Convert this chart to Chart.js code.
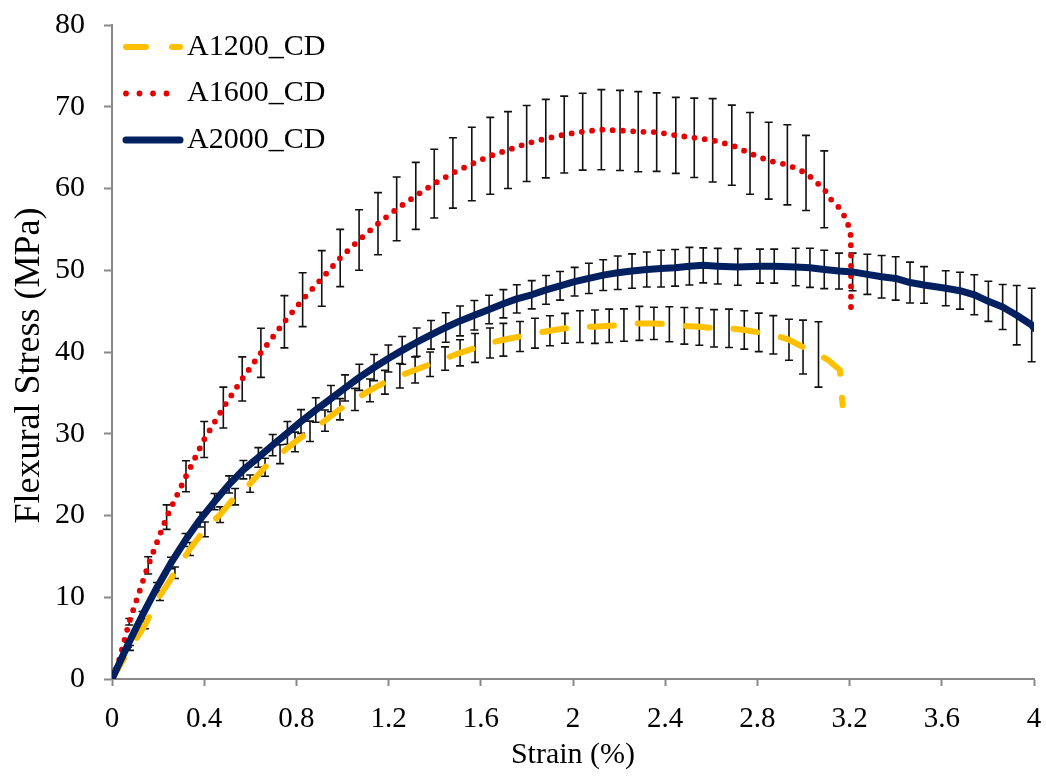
<!DOCTYPE html>
<html>
<head>
<meta charset="utf-8">
<title>Flexural stress vs strain</title>
<script src="https://cdn.jsdelivr.net/npm/chart.js@4.4.1/dist/chart.umd.min.js"></script>
<style>
  html, body { margin: 0; padding: 0; background: #fff; }
  #chart { display: block; }
</style>
</head>
<body>
<canvas id="chart" width="1046" height="776"></canvas>
<script>
// values: strain (%), mean stress (MPa), error half-width (MPa)
const a1200Strain = [0, 0.078, 0.143, 0.208, 0.273, 0.338, 0.403, 0.469, 0.534, 0.599, 0.664, 0.729, 0.794, 0.859, 0.924, 0.989, 1.054, 1.119, 1.184, 1.249, 1.315, 1.380, 1.445, 1.510, 1.575, 1.640, 1.698, 1.770, 1.835, 1.900, 1.965, 2.030, 2.095, 2.157, 2.221, 2.288, 2.351, 2.418, 2.483, 2.548, 2.612, 2.677, 2.743, 2.806, 2.869, 2.937, 2.998, 3.065, 3.108, 3.158, 3.166, 3.170];
const a1200Stress = [0, 3.8, 6.6, 10.2, 13.0, 15.9, 18.3, 20.1, 22.3, 23.9, 25.9, 27.5, 29.0, 30.3, 31.6, 33.0, 34.2, 35.3, 36.3, 37.1, 37.8, 38.5, 39.2, 39.9, 40.5, 41.1, 41.5, 41.9, 42.3, 42.6, 42.9, 43.1, 43.1, 43.2, 43.3, 43.5, 43.5, 43.4, 43.2, 43.1, 42.9, 42.9, 42.7, 42.4, 42.1, 41.5, 40.6, 39.7, 39.0, 37.8, 34.7, 33.5];
const a1200Err = [null, 0.3, 0.45, 0.6, 0.7, 0.8, 0.9, 0.95, 1.0, 1.05, 1.1, 1.15, 1.2, 1.25, 1.3, 1.3, 1.35, 1.39, 1.45, 1.5, 1.6, 1.5, 1.43, 1.6, 1.77, 1.83, 2.0, 1.83, 1.83, 1.83, 1.83, 1.94, 2.04, 2.04, 1.98, 2.08, 1.98, 2.14, 2.24, 2.28, 2.28, 2.35, 2.35, 2.35, 2.35, 2.5, 3.3, 4.0, null, null, null, null];

const a1600Strain = [0, 0.032, 0.075, 0.157, 0.237, 0.321, 0.400, 0.483, 0.565, 0.646, 0.748, 0.827, 0.910, 0.990, 1.072, 1.154, 1.235, 1.318, 1.398, 1.479, 1.561, 1.641, 1.718, 1.799, 1.882, 1.962, 2.042, 2.123, 2.204, 2.283, 2.363, 2.446, 2.526, 2.606, 2.689, 2.768, 2.849, 2.930, 3.011, 3.090, 3.118, 3.153, 3.174, 3.192, 3.204, 3.206, 3.206];
const a1600Stress = [0, 2.4, 7.0, 13.9, 19.8, 24.8, 29.3, 33.2, 36.7, 39.9, 43.7, 46.4, 49.0, 51.5, 53.7, 55.7, 57.5, 59.1, 60.6, 61.9, 63.0, 64.0, 64.7, 65.5, 66.1, 66.6, 66.95, 67.2, 67.1, 66.95, 66.9, 66.5, 66.2, 65.9, 65.3, 64.3, 63.4, 62.9, 61.9, 59.9, 58.7, 57.7, 56.8, 55.7, 54.6, 52.5, 44.8];
const a1600Err = [null, null, 0.4, 1.06, 1.5, 1.9, 2.2, 2.5, 2.7, 3.0, 3.2, 3.3, 3.4, 3.5, 3.7, 3.8, 3.9, 4.1, 4.2, 4.3, 4.5, 4.7, 4.7, 4.65, 4.8, 4.7, 4.7, 4.9, 4.9, 4.9, 4.8, 4.65, 4.85, 5.1, 4.9, 5.0, 4.7, 4.9, 4.6, 4.7, null, null, null, null, null, null, null];

const a2000Strain = [0, 0.069, 0.132, 0.195, 0.256, 0.319, 0.382, 0.445, 0.508, 0.570, 0.635, 0.697, 0.761, 0.820, 0.884, 0.950, 1.011, 1.073, 1.137, 1.199, 1.259, 1.322, 1.384, 1.448, 1.510, 1.572, 1.636, 1.698, 1.756, 1.821, 1.883, 1.944, 2.007, 2.069, 2.131, 2.194, 2.256, 2.320, 2.382, 2.443, 2.505, 2.565, 2.628, 2.715, 2.811, 2.873, 2.966, 3.028, 3.090, 3.154, 3.213, 3.277, 3.339, 3.400, 3.462, 3.523, 3.617, 3.679, 3.741, 3.802, 3.864, 3.925, 3.990, 4.0];
const a2000Stress = [0, 4.2, 7.8, 11.2, 14.2, 17.0, 19.5, 21.7, 23.8, 25.6, 27.1, 28.6, 30.1, 31.5, 32.9, 34.3, 35.6, 36.9, 38.1, 39.2, 40.2, 41.2, 42.1, 43.0, 43.8, 44.5, 45.2, 45.9, 46.5, 47.0, 47.6, 48.1, 48.6, 49.0, 49.4, 49.7, 49.9, 50.1, 50.2, 50.3, 50.5, 50.6, 50.5, 50.4, 50.5, 50.5, 50.4, 50.3, 50.1, 49.9, 49.8, 49.5, 49.2, 49.0, 48.5, 48.2, 47.8, 47.5, 47.0, 46.2, 45.5, 44.5, 43.3, 42.9];
const a2000Err = [null, 0.3, 0.45, 0.6, 0.7, 0.8, 0.9, 1.0, 1.05, 1.12, 1.2, 1.3, 1.39, 1.45, 1.5, 1.6, 1.6, 1.6, 1.6, 1.65, 1.7, 1.73, 1.75, 1.8, 1.83, 1.8, 1.75, 1.73, 1.73, 1.73, 1.75, 1.75, 1.75, 1.85, 1.88, 2.05, 2.1, 2.14, 2.24, 2.24, 2.3, 2.14, 2.18, 2.24, 2.08, 2.08, 2.3, 2.4, 2.35, 2.2, 2.3, 2.45, 2.6, 2.65, 2.5, 2.24, 2.14, 2.26, 2.45, 2.45, 2.75, 3.63, 4.49, null];

const xTicks = [0, 0.4, 0.8, 1.2, 1.6, 2, 2.4, 2.8, 3.2, 3.6, 4];
const yTicks = [0, 10, 20, 30, 40, 50, 60, 70, 80];

const toPoints = (xs, ys) => xs.map((x, i) => ({ x: x, y: ys[i] }));

Chart.defaults.font.family = "'Liberation Serif', 'Times New Roman', serif";
Chart.defaults.color = '#000';

// vertical error bars with caps, drawn under the lines
const errorBars = {
    id: 'errorBars',
    beforeDatasetsDraw(chart) {
        const { ctx, chartArea, scales } = chart;
        ctx.save();
        ctx.beginPath();
        ctx.rect(chartArea.left, chartArea.top - 4, chartArea.width + 4, chartArea.height + 4);
        ctx.clip();
        ctx.strokeStyle = '#111';
        ctx.lineWidth = 1.6;
        chart.data.datasets.forEach(ds => {
            ds.data.forEach((pt, i) => {
                const e = ds.errors[i];
                if (e == null) return;
                const px = scales.x.getPixelForValue(pt.x);
                const top = scales.y.getPixelForValue(pt.y + e);
                const bot = scales.y.getPixelForValue(pt.y - e);
                ctx.beginPath();
                ctx.moveTo(px, top);
                ctx.lineTo(px, bot);
                ctx.moveTo(px - 4, top);
                ctx.lineTo(px + 4, top);
                ctx.moveTo(px - 4, bot);
                ctx.lineTo(px + 4, bot);
                ctx.stroke();
            });
        });
        ctx.restore();
    }
};

// legend sits inside the plot, top left, with line samples
const insideLegend = {
    id: 'insideLegend',
    afterDatasetsDraw(chart) {
        const { ctx, chartArea } = chart;
        const x0 = chartArea.left + 14;
        const x1 = chartArea.left + 68;
        ctx.save();
        chart.data.datasets.forEach((ds, row) => {
            const y = chartArea.top + 22 + row * 46.5;
            ctx.beginPath();
            ctx.strokeStyle = ds.borderColor;
            ctx.lineWidth = ds.borderWidth;
            ctx.lineCap = 'round';
            ctx.setLineDash(ds.legendDash);
            ctx.moveTo(x0, y);
            ctx.lineTo(x1, y);
            ctx.stroke();
            ctx.setLineDash([]);
            ctx.fillStyle = '#000';
            ctx.font = "30px 'Liberation Serif', 'Times New Roman', serif";
            ctx.textBaseline = 'middle';
            ctx.textAlign = 'left';
            ctx.fillText(ds.label, chartArea.left + 75, y);
        });
        ctx.restore();
    }
};

new Chart(document.getElementById('chart'), {
    type: 'line',
    data: {
        datasets: [
            {
                label: 'A1200_CD',
                data: toPoints(a1200Strain, a1200Stress),
                errors: a1200Err,
                borderColor: '#FFC000',
                borderWidth: 6,
                borderDash: [24, 24],
                legendDash: [20, 26],
                borderCapStyle: 'round',
                borderJoinStyle: 'round',
                order: 3
            },
            {
                label: 'A1600_CD',
                data: toPoints(a1600Strain, a1600Stress),
                errors: a1600Err,
                borderColor: '#E60000',
                borderWidth: 5.8,
                borderDash: [0, 10.3],
                legendDash: [0, 13.5],
                borderCapStyle: 'round',
                borderJoinStyle: 'round',
                order: 2
            },
            {
                label: 'A2000_CD',
                data: toPoints(a2000Strain, a2000Stress),
                errors: a2000Err,
                borderColor: '#002060',
                borderWidth: 7,
                borderDash: [],
                legendDash: [],
                borderCapStyle: 'round',
                borderJoinStyle: 'round',
                order: 1
            }
        ]
    },
    options: {
        responsive: false,
        animation: false,
        devicePixelRatio: 1,
        layout: { padding: { top: 25, right: 12, left: 0, bottom: 0 } },
        elements: { point: { radius: 0, hoverRadius: 0 }, line: { tension: 0, fill: false } },
        plugins: { legend: { display: false }, tooltip: { enabled: false } },
        scales: {
            x: {
                type: 'linear',
                min: 0,
                max: 4,
                afterBuildTicks: s => { s.ticks = xTicks.map(v => ({ value: v })); },
                afterFit: s => { s.height = 97; s.paddingLeft = 0; s.paddingRight = 0; },
                ticks: { color: '#000', font: { size: 29 }, padding: 16, maxRotation: 0, autoSkip: false, callback: v => String(v) },
                grid: { drawOnChartArea: false, tickLength: 7, tickColor: '#898989', tickWidth: 2 },
                border: { display: true, color: '#898989', width: 2 },
                title: { display: true, text: 'Strain (%)', color: '#000', font: { size: 30 }, padding: { top: 0, bottom: 3 } }
            },
            y: {
                type: 'linear',
                min: 0,
                max: 80,
                afterBuildTicks: s => { s.ticks = yTicks.map(v => ({ value: v })); },
                afterFit: s => { s.width = 112; s.paddingTop = 0; s.paddingBottom = 0; },
                ticks: { color: '#000', font: { size: 30 }, padding: 19, autoSkip: false, callback: v => String(v) },
                grid: { drawOnChartArea: false, tickLength: 8, tickColor: '#898989', tickWidth: 2 },
                border: { display: true, color: '#898989', width: 2 },
                title: { display: true, text: 'Flexural Stress (MPa)   ', color: '#000', font: { size: 36 }, padding: { top: 8, bottom: 0 } }
            }
        }
    },
    plugins: [errorBars, insideLegend]
});
</script>
</body>
</html>
